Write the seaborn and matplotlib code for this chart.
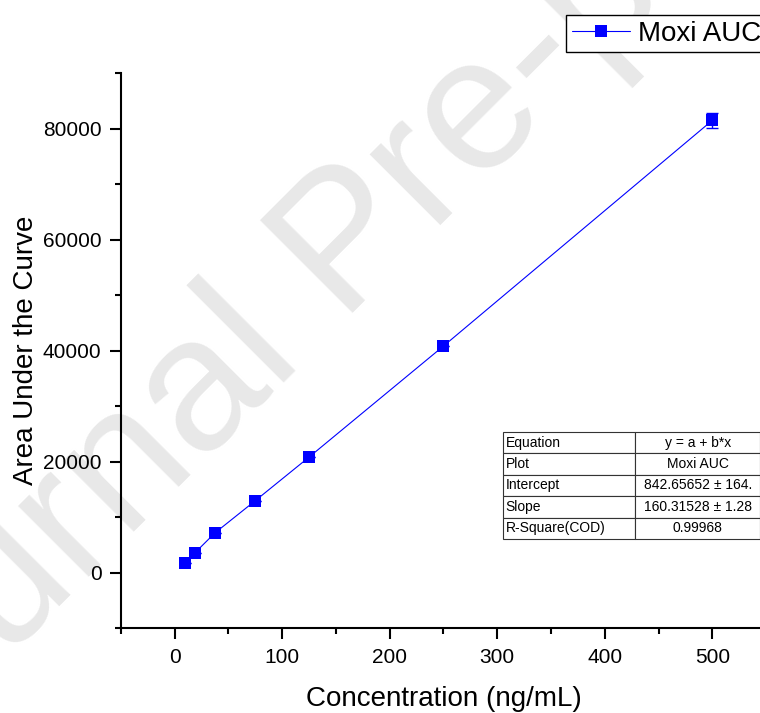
import pandas as pd
import seaborn as sns
import matplotlib.pyplot as plt
from matplotlib.ticker import MultipleLocator

# calibration data
conc = [9.375, 18.75, 37.5, 75, 125, 250, 500]
auc = [1700, 3600, 7200, 13000, 20850, 40850, 81500]
auc_err = [0, 0, 0, 0, 0, 0, 1400]

# linear fit summary
fit_rows = ["Equation", "Plot", "Intercept", "Slope", "R-Square(COD)"]
fit_vals = ["y = a + b*x", "Moxi AUC", "842.65652 ± 164.", "160.31528 ± 1.28", "0.99968"]

sns.set_theme(style="ticks")
plt.rcParams["font.family"] = ["Liberation Sans", "DejaVu Sans"]
plt.rcParams["text.color"] = "black"

fig = plt.figure(figsize=(7.6, 7.13), dpi=100)
ax = fig.add_axes([0.1592, 0.1188, 0.8487, 0.7785])
ax.patch.set_alpha(0)

# watermark
fig.text(-0.180, -0.126, "Journal Pre-proof", fontsize=137, color="#e8e8e8",
         rotation=45, rotation_mode="anchor", ha="left", va="baseline", zorder=-5)

df = pd.DataFrame({"conc": conc, "auc": auc})
ax.errorbar(conc, auc, yerr=auc_err, fmt="none", ecolor="blue", elinewidth=1, capsize=4, capthick=1)
sns.lineplot(data=df, x="conc", y="auc", ax=ax, color="blue", lw=0.8, marker="s",
             markersize=8, markeredgewidth=0, label="Moxi AUC")

ax.set_xlim(-50, 550)
ax.set_ylim(-10000, 90000)
ax.xaxis.set_major_locator(MultipleLocator(100))
ax.xaxis.set_minor_locator(MultipleLocator(50))
ax.yaxis.set_major_locator(MultipleLocator(20000))
ax.yaxis.set_minor_locator(MultipleLocator(10000))

ax.tick_params(which="major", length=8, width=1.5, labelsize=15, pad=6, colors="black")
ax.tick_params(which="minor", length=4, width=1.5, colors="black")
for s in ["left", "bottom"]:
    ax.spines[s].set_linewidth(1.5)
    ax.spines[s].set_color("black")
sns.despine(ax=ax)

ax.set_xlabel("Concentration (ng/mL)", fontsize=20, labelpad=14, color="black")
ax.set_ylabel("Area Under the Curve", fontsize=20, labelpad=3, color="black")

leg = ax.legend(loc="upper left", bbox_to_anchor=(0.745, 0.979), bbox_transform=fig.transFigure,
                frameon=True, fancybox=False, edgecolor="black", framealpha=1, fontsize=20,
                handlelength=2.1, handletextpad=0.3, borderpad=0.2, borderaxespad=0,
                labelcolor="black")
leg.get_frame().set_linewidth(1.0)

tbl = ax.table(cellText=[[r, v] for r, v in zip(fit_rows, fit_vals)], colWidths=[0.514, 0.486],
               bbox=[0.592, 0.161, 0.399, 0.193], cellLoc="center")
tbl.auto_set_font_size(False)
tbl.set_fontsize(10)
for (i, j), cell in tbl.get_celld().items():
    cell.set_edgecolor("#333333")
    cell.set_linewidth(0.8)
    cell.get_text().set_color("black")
    if j == 0:
        cell.PAD = 0.02
        cell._loc = "left"
        cell.get_text().set_ha("left")

fig.savefig("out.png", dpi=100)
